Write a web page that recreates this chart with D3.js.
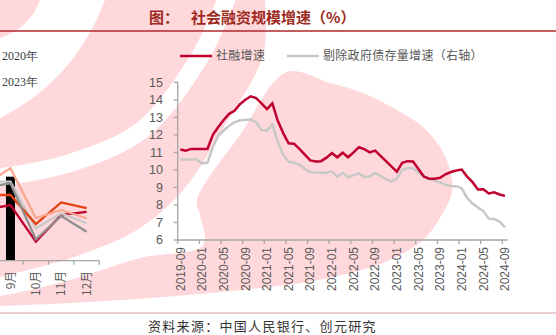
<!DOCTYPE html>
<html><head><meta charset="utf-8">
<script src="https://cdn.jsdelivr.net/npm/d3@7"></script>
<style>body{margin:0;background:#fff}svg{display:block}</style>
</head><body>
<svg id="c" width="556" height="335"></svg>
<script>
// ---------- data ----------
const months = d3.timeMonth.range(new Date(2019, 8, 1), new Date(2024, 9, 1)).map(d3.timeFormat("%Y-%m"));
const tsfGrowth = [11.17,11.1,11.2,11.2,11.2,11.2,12.0,12.45,12.85,13.2,13.37,13.75,14.0,14.2,14.1,13.8,13.47,13.8,12.8,12.1,
  11.52,11.5,11.2,10.87,10.54,10.48,10.5,10.7,10.96,10.72,10.98,10.72,11.0,11.3,11.18,11.0,11.1,10.8,10.5,10.2,
  9.9,10.4,10.5,10.48,10.05,9.62,9.5,9.5,9.55,9.75,9.88,9.97,10.02,9.62,9.3,8.88,8.9,8.66,8.72,8.6,8.52];
const exGovGrowth = [10.6,10.6,10.6,10.6,10.37,10.42,11.3,11.95,12.25,12.52,12.72,12.82,12.86,12.88,12.72,12.27,12.24,12.6,11.6,10.85,
  10.47,10.4,10.3,10.05,9.87,9.85,9.83,9.85,9.92,9.62,9.84,9.58,9.7,9.8,9.6,9.62,9.82,9.66,9.47,9.33,
  9.5,10.0,10.09,10.09,9.85,9.6,9.47,9.38,9.28,9.15,9.08,9.07,8.95,8.4,8.08,7.85,7.65,7.22,7.2,7.05,6.72];
const yTicks = [6,7,8,9,10,11,12,13,14,15];
const seriesNames = ["社融增速", "剔除政府债存量增速（右轴）"];

// left (cropped) panel: monthly new TSF by year
const leftMonths = ["8月","9月","10月","11月","12月"];
const leftBar2024 = [null, 3.76, null, null, null];
const leftLines = [
  {name:"2019年", values:[2.28,2.49,0.85,2.05,2.19]},
  {name:"2020年", values:[3.54,3.54,1.45,2.12,1.67]},
  {name:"2021年", values:[2.94,2.94,1.64,2.61,2.35]},
  {name:"2022年", values:[3.29,3.46,0.96,2.00,1.30]},
  {name:"2023年", values:[3.41,4.14,1.91,2.27,1.90]}
];
const leftColors = {"2019年":"#c0002f","2020年":"#c9c9c9","2021年":"#e2420f","2022年":"#8f8f8f","2023年":"#f7a88e"};
const legendLeft = ["2020年","2023年"];

// ---------- background watermark (decoration) ----------
const svg = d3.select("#c");
const PINK = "#ffd8db";
const wm = svg.append("g");
const cr = d3.line().curve(d3.curveCatmullRom.alpha(0.5));
const s1Edge = [[265,0],[263,55],[225,125],[185,188],[140,228],[80,255],[0,277]];
wm.append("path").attr("d", "M0,0L265,0" + cr(s1Edge).replace(/^M/, "L") + "L0,0Z").attr("fill", PINK);
const blob = [[287,72],[330,83],[363,93],[397,110],[423,127],[440,147],[450,170],[452,192],[443,213],[423,240],
  [390,260],[350,273],[300,283],[150,298],[0,306],[-20,306],[-20,297],[0,296],[70,280],[140,258],[203,245],[200,215],[197,200],[240,135]];
wm.append("path").attr("d", d3.line().curve(d3.curveCatmullRomClosed.alpha(0.5))(blob)).attr("fill", PINK);
wm.append("path").attr("d", "M40,0Q30,28,0,38L0,118Q75,80,105,0Z").attr("fill", "#fff");
wm.append("path").attr("d", cr([[228,-5],[198,60],[142,130],[70,163],[-5,178]]))
  .attr("fill", "none").attr("stroke", "#fff").attr("stroke-width", 18);

// ---------- drawing ----------
const FONT = "'Liberation Sans', Arial, sans-serif";
const CJK = "'Noto Sans CJK SC', sans-serif";

// left panel
const lx = d3.scaleBand().domain(leftMonths).range([-27.6, 99.3]);
const ly = d3.scaleLinear().domain([0, 3.76]).range([260.7, 176.7]);
const lg = svg.append("g");
lg.selectAll("rect.bar").data(leftMonths.filter((m,i)=>leftBar2024[i]!=null)).enter().append("rect")
  .attr("x", m => lx(m) + lx.bandwidth()/2 - 4.5).attr("width", 9)
  .attr("y", m => ly(leftBar2024[leftMonths.indexOf(m)]))
  .attr("height", m => ly(0) - ly(leftBar2024[leftMonths.indexOf(m)]))
  .attr("fill", "#000");
const lline = d3.line().x((v,i)=>lx(leftMonths[i]) + lx.bandwidth()/2).y(v=>ly(v));
leftLines.forEach(s => {
  lg.append("path").attr("d", lline(s.values)).attr("fill","none")
    .attr("stroke", leftColors[s.name]).attr("stroke-width", 2.3);
});
lg.append("line").attr("x1", -30).attr("x2", 99.3).attr("y1", ly(0)).attr("y2", ly(0))
  .attr("stroke", "#a6a6a6").attr("stroke-width", 1.3);
leftMonths.forEach((m,i) => {
  if (i>0) lg.append("line").attr("x1", lx(m)+lx.bandwidth()).attr("x2", lx(m)+lx.bandwidth())
    .attr("y1", ly(0)).attr("y2", ly(0)+4).attr("stroke","#a6a6a6").attr("stroke-width",1.3);
  if (lx(m) + lx.bandwidth()/2 < 0) return;
  lg.append("text").attr("transform", `translate(${lx(m)+lx.bandwidth()/2},${ly(0)+10}) rotate(-90)`)
    .attr("text-anchor","end").attr("dy","0.35em").attr("font-family", CJK).attr("font-size", 12)
    .attr("fill","#595959").text(m);
});
legendLeft.forEach((t,i) => {
  svg.append("text").attr("x", 2).attr("y", 56 + i*26).attr("dy","0.35em")
    .attr("font-family", "'Liberation Serif', serif").attr("font-size", 12).attr("fill","#404040").text(t);
});

// main chart
const x = d3.scaleBand().domain(months).range([177.7, 507.7]);
const y = d3.scaleLinear().domain([6, 15]).range([240, 82.3]);
const yRight = d3.scaleLinear().domain([6, 15]).range([240, 82.3]);
const cx = d => x(d) + x.bandwidth()/2;

const g = svg.append("g");
g.append("line").attr("x1", 177.7).attr("x2", 177.7).attr("y1", y(15)).attr("y2", y(6))
  .attr("stroke","#a6a6a6").attr("stroke-width",1.3);
g.append("line").attr("x1", 177.7).attr("x2", 507.7).attr("y1", y(6)).attr("y2", y(6))
  .attr("stroke","#a6a6a6").attr("stroke-width",1.3);
yTicks.forEach(t => {
  g.append("line").attr("x1", 173.7).attr("x2", 177.7).attr("y1", y(t)).attr("y2", y(t))
    .attr("stroke","#a6a6a6").attr("stroke-width",1.3);
  g.append("text").attr("x", 163).attr("y", y(t)).attr("dy","0.35em").attr("text-anchor","end")
    .attr("font-family", FONT).attr("font-size", 12.5).attr("fill","#595959").text(t);
});
months.forEach((m,i) => {
  if (i % 4 !== 0) return;
  g.append("line").attr("x1", x(m)).attr("x2", x(m)).attr("y1", y(6)).attr("y2", y(6)+4)
    .attr("stroke","#a6a6a6").attr("stroke-width",1.3);
  g.append("text").attr("transform", `translate(${cx(m)},${y(6)+7}) rotate(-90)`)
    .attr("text-anchor","end").attr("dy","0.35em")
    .attr("font-family", FONT).attr("font-size", 12).attr("fill","#595959").text(m);
});
const lineL = d3.line().x((v,i)=>cx(months[i])).y(v=>y(v));
const lineR = d3.line().x((v,i)=>cx(months[i])).y(v=>yRight(v));
g.append("path").attr("d", lineR(exGovGrowth)).attr("fill","none").attr("stroke","#c8c8c8").attr("stroke-width",2.5);
g.append("path").attr("d", lineL(tsfGrowth)).attr("fill","none").attr("stroke","#c0002f").attr("stroke-width",2.5);

// legend
const legColors = ["#c0002f", "#c8c8c8"];
const legX = [180, 287];
seriesNames.forEach((n,i) => {
  svg.append("line").attr("x1", legX[i]).attr("x2", legX[i]+32).attr("y1", 56).attr("y2", 56)
    .attr("stroke", legColors[i]).attr("stroke-width", 2.5);
  svg.append("text").attr("x", legX[i]+36).attr("y", 56).attr("dy","0.35em")
    .attr("font-family", CJK).attr("font-size", 12).attr("letter-spacing", 0.3).attr("fill","#595959").text(n);
});

// title & source
const title = svg.append("text").attr("y", 18).attr("dy","0.35em").attr("font-family", CJK)
  .attr("font-size", 15).attr("font-weight", "bold").attr("fill", "#9e2a1e");
title.append("tspan").attr("x", 149).text("图：");
title.append("tspan").attr("x", 191).text("社会融资规模增速（%）");
svg.append("line").attr("x1",0).attr("x2",556).attr("y1",31).attr("y2",31).attr("stroke","#b0282c").attr("stroke-width",1.5);
svg.append("line").attr("x1",0).attr("x2",556).attr("y1",313).attr("y2",313).attr("stroke","#d9a0a0").attr("stroke-width",1);
svg.append("text").attr("x",148).attr("y",326).attr("dy","0.35em").attr("font-family", CJK)
  .attr("font-size",13).attr("letter-spacing",1.3).attr("fill","#333").text("资料来源：中国人民银行、创元研究");
</script>
</body></html>
